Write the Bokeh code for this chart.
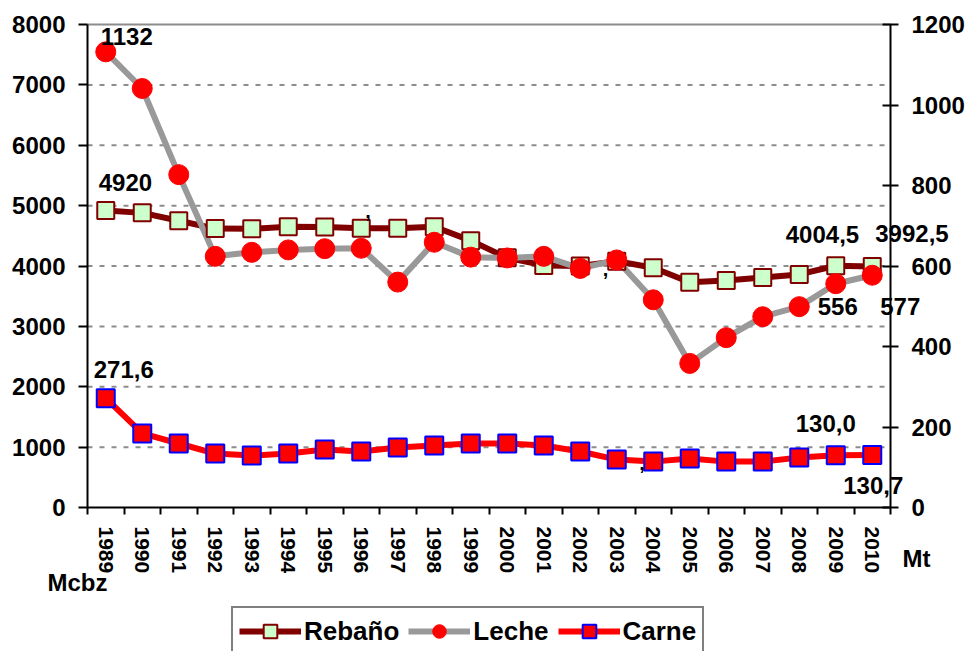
from bokeh.plotting import figure
from bokeh.models import (Range1d, LinearAxis, FixedTicker, Label,
                          Legend, LegendItem)
from bokeh.embed import file_html
from bokeh.resources import INLINE

years = list(range(1989, 2011))
rebano = [4920, 4880, 4750, 4620, 4615, 4650, 4645, 4625, 4625, 4650, 4420,
          4135, 4010, 4000, 4080, 3970, 3730, 3760, 3810, 3860, 4004.5, 3992.5]
leche = [1132, 1041, 827, 624, 634, 640, 643, 644, 560, 659, 622,
         620, 624, 594, 615, 516, 358, 422, 474, 499, 556, 577]
carne = [271.6, 184, 159, 134, 129, 134, 144, 139, 149, 154, 159,
         159, 154, 139, 119, 114, 122, 114, 114, 124, 130.0, 130.7]
left_ticks = [0, 1000, 2000, 3000, 4000, 5000, 6000, 7000, 8000]
right_ticks = [0, 200, 400, 600, 800, 1000, 1200]
series_names = ["Rebaño", "Leche", "Carne"]
unit_left = "Mcbz"
unit_right = "Mt"

FONT = "Liberation Sans"
W, H = 970, 651
# plot-area placement on the canvas (pixels)
PX0, PX1, PY_TOP, PY_BOT = 87, 890, 24, 507

x_lo, x_hi = years[0] - 0.5, years[-1] + 0.5
ppx = (PX1 - PX0) / (x_hi - x_lo)
ly_lo, ly_hi = left_ticks[0], left_ticks[-1]
ppy = (PY_BOT - PY_TOP) / (ly_hi - ly_lo)
ratio = (right_ticks[-1] - right_ticks[0]) / (ly_hi - ly_lo)

xr = Range1d(x_lo - PX0 / ppx, x_hi + (W - PX1) / ppx)
yr = Range1d(ly_lo - (H - PY_BOT) / ppy, ly_hi + PY_TOP / ppy)
yr_right = Range1d(yr.start * ratio, yr.end * ratio)


def fmt(v, dec):
    if dec == 0:
        return str(int(round(v)))
    return f"{v:.{dec}f}".replace(".", ",")


p = figure(width=W, height=H, output_backend="svg", toolbar_location=None,
           x_range=xr, y_range=yr, x_axis_type=None, y_axis_type=None,
           min_border=0, min_border_left=0, min_border_right=0,
           min_border_top=0, min_border_bottom=0, outline_line_color=None,
           background_fill_color="white", border_fill_color="white")
p.extra_y_ranges = {"right": yr_right}
p.grid.visible = False

# x axis
xaxis = LinearAxis(fixed_location=ly_lo, bounds=(x_lo, x_hi),
                   ticker=FixedTicker(ticks=years, minor_ticks=[y - 0.5 for y in years] + [x_hi]))
xaxis.major_tick_line_color = None
xaxis.major_tick_out = 0
xaxis.major_tick_in = 0
xaxis.minor_tick_out = 7
xaxis.minor_tick_in = 0
xaxis.minor_tick_line_color = "black"
xaxis.minor_tick_line_width = 2
xaxis.axis_line_color = "black"
xaxis.axis_line_width = 2
xaxis.major_label_orientation = "vertical"
xaxis.major_label_standoff = 12
xaxis.major_label_text_font = FONT
xaxis.major_label_text_font_style = "bold"
xaxis.major_label_text_font_size = "21px"
xaxis.major_label_text_color = "black"
p.add_layout(xaxis, "below")

# left axis
yaxis = LinearAxis(fixed_location=x_lo, bounds=(ly_lo, ly_hi),
                   ticker=FixedTicker(ticks=left_ticks))
yaxis.minor_tick_line_color = None
yaxis.major_tick_in = 0
yaxis.major_tick_out = 9
yaxis.major_tick_line_width = 2
yaxis.major_tick_line_color = "black"
yaxis.axis_line_width = 2
yaxis.axis_line_color = "black"
yaxis.major_label_standoff = 13
yaxis.major_label_text_font = FONT
yaxis.major_label_text_font_style = "bold"
yaxis.major_label_text_font_size = "24px"
yaxis.major_label_text_color = "black"
p.add_layout(yaxis, "left")

# right axis
raxis = LinearAxis(y_range_name="right", fixed_location=x_hi,
                   bounds=(right_ticks[0], right_ticks[-1]),
                   ticker=FixedTicker(ticks=right_ticks))
raxis.minor_tick_line_color = None
raxis.major_tick_in = 8
raxis.major_tick_out = 8
raxis.major_tick_line_width = 2
raxis.major_tick_line_color = "black"
raxis.axis_line_width = 2
raxis.axis_line_color = "black"
raxis.major_label_standoff = 13
raxis.major_label_text_font = FONT
raxis.major_label_text_font_style = "bold"
raxis.major_label_text_font_size = "24px"
raxis.major_label_text_color = "black"
p.add_layout(raxis, "right")

# gridlines (dashed) and solid top line
grid_vals = left_ticks[1:-1]
p.segment(x0=[x_lo] * len(grid_vals), y0=grid_vals, x1=[x_hi] * len(grid_vals), y1=grid_vals,
          line_color="#8c8c8c", line_width=2, line_dash="5 7")
p.segment(x0=[x_lo], y0=[ly_hi], x1=[x_hi], y1=[ly_hi], line_color="#8c8c8c", line_width=2)

# lines
l_reb = p.line(years, rebano, line_color="#800000", line_width=6)
l_lec = p.line(years, leche, line_color="#999999", line_width=6, y_range_name="right")
l_car = p.line(years, carne, line_color="#ff0000", line_width=6, y_range_name="right")
# markers
m_reb = p.scatter(years, rebano, marker="square", size=17, fill_color="#ccffcc",
                  line_color="#800000", line_width=2)
m_lec = p.scatter(years, leche, marker="circle", size=20, fill_color="#ff0000",
                  line_color="#ff0000", line_width=1, y_range_name="right")
m_car = p.scatter(years, carne, marker="square", size=18, fill_color="#ff0000",
                  line_color="#0000ff", line_width=2, y_range_name="right")

DY = 9  # baseline correction


def add_label(x, y, text, dx, dy, rng="default", size="24px"):
    kw = {}
    if rng != "default":
        kw["y_range_name"] = rng
    p.add_layout(Label(x=x, y=y, text=text, x_offset=dx, y_offset=dy + DY,
                       text_align="left", text_baseline="alphabetic",
                       text_font=FONT, text_font_style="bold",
                       text_font_size=size, text_color="black", **kw))


add_label(years[0], leche[0], fmt(leche[0], 0), -5, 6, "right")
add_label(years[0], rebano[0], fmt(rebano[0], 0), -7, 19)
add_label(years[0], carne[0], fmt(carne[0], 1), -12, 20, "right")
add_label(years[20], rebano[20], fmt(rebano[20], 1), -50, 22)
add_label(years[21], rebano[21], fmt(rebano[21], 1), 3, 24)
add_label(years[20], leche[20], fmt(leche[20], 0), -18, -32, "right")
add_label(years[21], leche[21], fmt(leche[21], 0), 8, -40, "right")
add_label(years[20], carne[20], fmt(carne[20], 1), -40, 23, "right")
add_label(years[21], carne[21], fmt(carne[21], 1), -29, -40, "right")
# stray separators visible in the original
add_label(years[7], rebano[7], ",", 4, 8, size="20px")
add_label(years[14], rebano[14], ",", -14, -17, size="20px")
add_label(years[15], carne[15], ",", -14, -10, "right", size="20px")

# unit labels (screen units, from the bottom-left of the canvas)
p.add_layout(Label(x=47, y=H - 592 + 10, x_units="screen", y_units="screen", text=unit_left,
                   text_font=FONT, text_font_style="bold", text_font_size="24px",
                   text_color="black", text_align="left", text_baseline="alphabetic"))
p.add_layout(Label(x=902, y=H - 568 + 10, x_units="screen", y_units="screen", text=unit_right,
                   text_font=FONT, text_font_style="bold", text_font_size="24px",
                   text_color="black", text_align="left", text_baseline="alphabetic"))

legend = Legend(items=[
    LegendItem(label=series_names[0], renderers=[l_reb, m_reb]),
    LegendItem(label=series_names[1], renderers=[l_lec, m_lec]),
    LegendItem(label=series_names[2], renderers=[l_car, m_car]),
], orientation="horizontal", location=(231, -5),
    label_text_font=FONT, label_text_font_style="bold", label_text_font_size="26px",
    label_text_color="black", glyph_width=62, glyph_height=34, label_standoff=3,
    spacing=9, padding=6, margin=0, border_line_color="black", border_line_width=2,
    background_fill_alpha=1.0)
p.add_layout(legend, "center")

open("out.html", "w").write(file_html(p, INLINE))
